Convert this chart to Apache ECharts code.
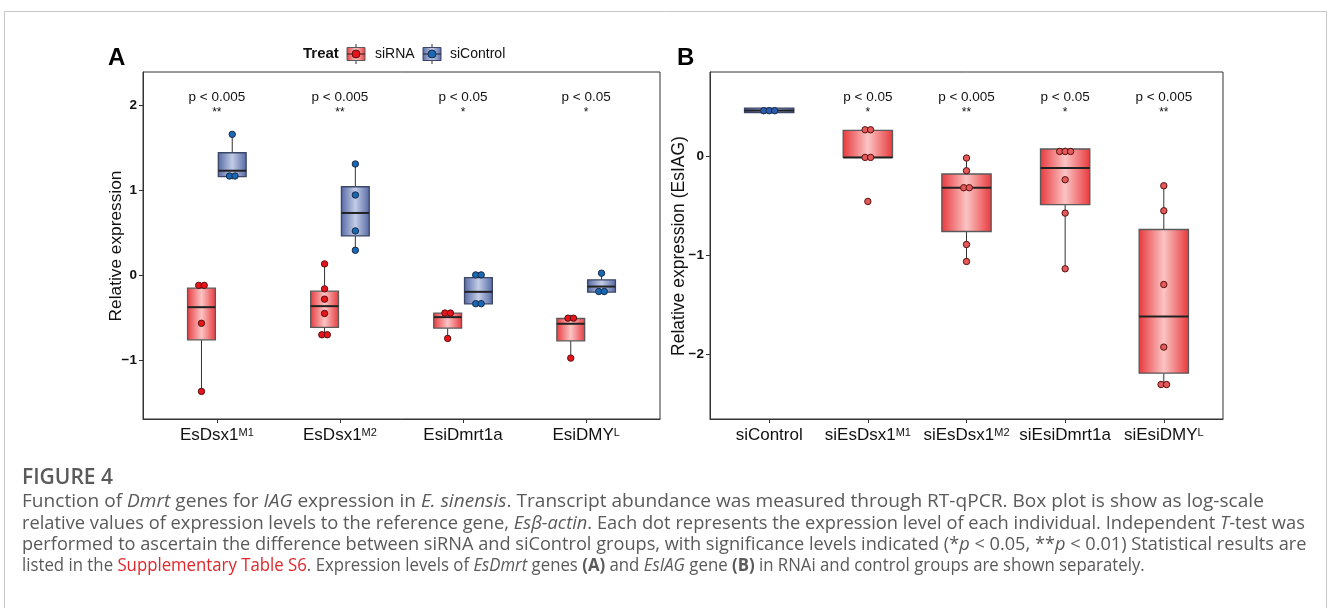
<!DOCTYPE html>
<html><head><meta charset="utf-8">
<script src="https://cdn.jsdelivr.net/npm/echarts@6/dist/echarts.min.js"></script>
<style>html,body{margin:0;padding:0;background:#fff}#c{width:1328px;height:608px}</style>
</head><body><div id="c"></div>
<script>
// ---------- Panel A data ----------
const catsA = ['EsDsx1{sup|M1}', 'EsDsx1{sup|M2}', 'EsiDmrt1a', 'EsiDMY{sup|L}'];
// box stats per category: [lower whisker, Q1, median, Q3, upper whisker]
const siRNA_A_box = [
  [-1.36, -0.754, -0.371, -0.148, -0.09],
  [-0.695, -0.609, -0.359, -0.183, 0.137],
  [-0.738, -0.617, -0.488, -0.441, -0.43],
  [-0.969, -0.766, -0.566, -0.504, -0.46]
];
const siControl_A_box = [
  [1.13, 1.161, 1.231, 1.442, 1.658],
  [0.297, 0.465, 0.735, 1.043, 1.31],
  [-0.35, -0.332, -0.191, -0.023, 0.04],
  [-0.21, -0.195, -0.129, -0.05, 0.028]
];
const siRNA_A_pts = [
  [-0.115, -0.115, -0.56, -1.36],
  [0.137, -0.156, -0.277, -0.445, -0.695, -0.695],
  [-0.44, -0.44, -0.738],
  [-0.50, -0.50, -0.969]
];
const siControl_A_pts = [
  [1.658, 1.169, 1.169],
  [1.31, 0.946, 0.524, 0.297],
  [0.008, 0.008, -0.33, -0.33],
  [0.028, -0.187, -0.187]
];
const pTextA = ['p < 0.005', 'p < 0.005', 'p < 0.05', 'p < 0.05'];
const starsA = ['**', '**', '*', '*'];
const yTicksA = [-1, 0, 1, 2];

// ---------- Panel B data ----------
const catsB = ['siControl', 'siEsDsx1{sup|M1}', 'siEsDsx1{sup|M2}', 'siEsiDmrt1a', 'siEsiDMY{sup|L}'];
const groupB = ['siControl', 'siRNA', 'siRNA', 'siRNA', 'siRNA'];
const boxB = [
  [0.445, 0.445, 0.465, 0.49, 0.49],
  [-0.01, -0.01, -0.01, 0.263, 0.27],
  [-1.064, -0.76, -0.317, -0.178, -0.016],
  [-1.138, -0.489, -0.118, 0.075, 0.09],
  [-2.31, -2.195, -1.621, -0.74, -0.297]
];
const ptsB = [
  [0.463, 0.463, 0.463],
  [0.27, 0.27, -0.01, -0.01, -0.456],
  [-0.016, -0.145, -0.317, -0.317, -0.892, -1.064],
  [0.05, 0.05, 0.05, -0.236, -0.574, -1.138],
  [-0.297, -0.55, -1.297, -1.931, -2.31, -2.31]
];
const pTextB = ['', 'p < 0.05', 'p < 0.005', 'p < 0.05', 'p < 0.005'];
const starsB = ['', '*', '**', '*', '**'];
const yTicksB = [-2, -1, 0];

// ---------- styles ----------
const FONT = 'Liberation Sans, Arial, sans-serif';
const grad = (edge, mid) => new echarts.graphic.LinearGradient(0, 0, 1, 0, [
  {offset: 0, color: edge}, {offset: 0.5, color: mid}, {offset: 1, color: edge}]);
const STY = {
  siRNA: {edge: '#e8383c', mid: '#fbc4c4', border: '#5a5a5a', dotA: '#e8141b', dotB: '#e25a5a', dotStroke: '#5a1010'},
  siControl: {edge: '#5368a3', mid: '#c3cce6', border: '#3c4768', dotA: '#1869b3', dotB: '#2a5cb0', dotStroke: '#1a2a4a'}
};

function boxData(boxes, offset) {
  return boxes.map((b, i) => [i + 1 + offset].concat(b));
}
// group equal values into horizontal stacks (dot-plot style)
function ptData(ptsList, offset, keep) {
  const out = [];
  ptsList.forEach((pts, i) => {
    if (keep && !keep(i)) return;
    const used = new Array(pts.length).fill(false);
    pts.forEach((v, j) => {
      if (used[j]) return;
      const grp = [];
      pts.forEach((w, k) => { if (!used[k] && Math.abs(w - v) < 0.02) { used[k] = true; grp.push(w); } });
      grp.forEach((w, k) => out.push([i + 1 + offset, w, k - (grp.length - 1) / 2]));
    });
  });
  return out;
}

function boxRender(halfW, styleFor) {
  return function (params, api) {
    const x = api.value(0);
    const s = styleFor(params.dataIndex);
    const lo = api.coord([x, api.value(1)]), q1 = api.coord([x, api.value(2)]),
          md = api.coord([x, api.value(3)]), q3 = api.coord([x, api.value(4)]),
          hi = api.coord([x, api.value(5)]);
    const xl = api.coord([x - halfW, 0])[0], xr = api.coord([x + halfW, 0])[0];
    const cx = lo[0];
    return {type: 'group', children: [
      {type: 'line', shape: {x1: cx, y1: hi[1], x2: cx, y2: q3[1]}, style: {stroke: '#333', lineWidth: 1}},
      {type: 'line', shape: {x1: cx, y1: q1[1], x2: cx, y2: lo[1]}, style: {stroke: '#333', lineWidth: 1}},
      {type: 'rect', shape: {x: xl, y: q3[1], width: xr - xl, height: q1[1] - q3[1]},
        style: {fill: grad(s.edge, s.mid), stroke: s.border, lineWidth: 1.3}},
      {type: 'line', shape: {x1: xl, y1: md[1], x2: xr, y2: md[1]}, style: {stroke: '#222', lineWidth: 2}}
    ]};
  };
}
function ptRender(fill, stroke, spacing, r) {
  return function (params, api) {
    const p = api.coord([api.value(0), api.value(1)]);
    return {type: 'circle', shape: {cx: p[0] + api.value(2) * spacing, cy: p[1], r: r},
      style: {fill: fill, stroke: stroke, lineWidth: 1}};
  };
}
function textRender(ptexts, stars) {
  return function (params, api) {
    const i = params.dataIndex;
    const x = api.coord([api.value(0), 0])[0];
    const top = params.coordSys.y;
    return {type: 'group', children: [
      {type: 'text', x: x, y: top + 25, style: {text: ptexts[i], font: '13.5px ' + FONT, fill: '#111', align: 'center', verticalAlign: 'middle'}},
      {type: 'text', x: x, y: top + 41, style: {text: stars[i], font: '12px ' + FONT, fill: '#111', align: 'center', verticalAlign: 'middle'}}
    ]};
  };
}

const richX = {sup: {fontSize: 11, verticalAlign: 'top', lineHeight: 10, color: '#111', fontFamily: FONT}};
function xAxisCfg(grid, n, cats) {
  const vals = cats.map((c, i) => i + 1);
  return {gridIndex: grid, type: 'value', min: 0.4, max: n + 0.6,
    splitLine: {show: false},
    axisLine: {show: true, onZero: false, lineStyle: {color: '#333', width: 1}},
    axisTick: {show: true, customValues: vals, length: 4, lineStyle: {color: '#333'}},
    axisLabel: {customValues: vals, formatter: v => cats[Math.round(v) - 1], fontSize: 17,
      color: '#111', fontFamily: FONT, margin: 8, rich: richX}};
}
function yAxisCfg(grid, min, max, ticks) {
  return {gridIndex: grid, type: 'value', min: min, max: max,
    splitLine: {show: false},
    axisLine: {show: true, onZero: false, lineStyle: {color: '#333', width: 1}},
    axisTick: {show: true, customValues: ticks, length: 4, lineStyle: {color: '#333'}},
    axisLabel: {customValues: ticks, formatter: v => String(v).replace('-', '\u2212'),
      fontSize: 13.5, fontWeight: 'bold', color: '#111', fontFamily: FONT, margin: 6}};
}

const offA = 0.125, halfA = 0.113;
const series = [
  {type: 'custom', xAxisIndex: 0, yAxisIndex: 0, renderItem: boxRender(halfA, () => STY.siRNA), data: boxData(siRNA_A_box, -offA), z: 2},
  {type: 'custom', xAxisIndex: 0, yAxisIndex: 0, renderItem: boxRender(halfA, () => STY.siControl), data: boxData(siControl_A_box, offA), z: 2},
  {type: 'custom', xAxisIndex: 0, yAxisIndex: 0, renderItem: ptRender(STY.siRNA.dotA, STY.siRNA.dotStroke, 5.5, 3.2),
    data: ptData(siRNA_A_pts, -offA), z: 3},
  {type: 'custom', xAxisIndex: 0, yAxisIndex: 0, renderItem: ptRender(STY.siControl.dotA, STY.siControl.dotStroke, 5.5, 3.2),
    data: ptData(siControl_A_pts, offA), z: 3},
  {type: 'custom', xAxisIndex: 0, yAxisIndex: 0, renderItem: textRender(pTextA, starsA), data: catsA.map((c, i) => [i + 1, 0]), z: 4},

  {type: 'custom', xAxisIndex: 1, yAxisIndex: 1, renderItem: boxRender(0.25, i => STY[groupB[i]]), data: boxData(boxB, 0), z: 2},
  {type: 'custom', xAxisIndex: 1, yAxisIndex: 1, renderItem: ptRender(STY.siRNA.dotB, STY.siRNA.dotStroke, 5.5, 3.2),
    data: ptData(ptsB, 0, i => groupB[i] === 'siRNA'), z: 3},
  {type: 'custom', xAxisIndex: 1, yAxisIndex: 1, renderItem: ptRender(STY.siControl.dotB, STY.siControl.dotStroke, 5.5, 3.2),
    data: ptData(ptsB, 0, i => groupB[i] === 'siControl'), z: 3},
  {type: 'custom', xAxisIndex: 1, yAxisIndex: 1, renderItem: textRender(pTextB, starsB), data: catsB.map((c, i) => [i + 1, 0]), z: 4}
];

// caption
const CAPF = 'Open Sans';
const CAPS = 18;
const CAPC = '#5a5a5a';
const capRich = {
  i: {fontStyle: 'italic', fontSize: CAPS, fontFamily: CAPF, fill: CAPC},
  r: {fill: '#e0262b', fontSize: CAPS, fontFamily: CAPF},
  b: {fontWeight: 'bold', fontSize: CAPS, fontFamily: CAPF, fill: CAPC}
};
const capLines = [
  'Function of {i|Dmrt} genes for {i|IAG} expression in {i|E. sinensis}. Transcript abundance was measured through RT-qPCR. Box plot is show as log-scale',
  'relative values of expression levels to the reference gene, {i|Es\u03b2-actin}. Each dot represents the expression level of each individual. Independent {i|T}-test was',
  'performed to ascertain the difference between siRNA and siControl groups, with significance levels indicated (*{i|p} < 0.05, **{i|p} < 0.01) Statistical results are',
  'listed in the {r|Supplementary Table S6}. Expression levels of {i|EsDmrt} genes {b|(A)} and {i|EsIAG} gene {b|(B)} in RNAi and control groups are shown separately.'
];
const capY = [502, 523.5, 545, 566];
const capScale = [1.061, 1.016, 1.010, 0.932];

const graphics = [
  {type: 'rect', shape: {x: 4.5, y: 11.5, width: 1322, height: 610}, style: {fill: 'none', stroke: '#c6c6c6', lineWidth: 1}, silent: true},
  {type: 'text', x: 108, y: 58, style: {text: 'A', font: 'bold 24px ' + FONT, fill: '#000', verticalAlign: 'middle'}},
  {type: 'text', x: 677, y: 58, style: {text: 'B', font: 'bold 24px ' + FONT, fill: '#000', verticalAlign: 'middle'}},
  {type: 'text', x: 116, y: 246, rotation: Math.PI / 2, style: {text: 'Relative expression', font: '17.3px ' + FONT, fill: '#111', align: 'center', verticalAlign: 'middle'}},
  {type: 'text', x: 679, y: 246, rotation: Math.PI / 2, style: {text: 'Relative expression (EsIAG)', font: '17.5px ' + FONT, fill: '#111', align: 'center', verticalAlign: 'middle'}},
  // legend
  {type: 'text', x: 303, y: 54, style: {text: 'Treat', font: 'bold 15px ' + FONT, fill: '#111', verticalAlign: 'middle'}},
  {type: 'line', shape: {x1: 356, y1: 44, x2: 356, y2: 64}, style: {stroke: '#333', lineWidth: 1}},
  {type: 'rect', shape: {x: 347, y: 47.5, width: 18, height: 13}, style: {fill: grad(STY.siRNA.edge, STY.siRNA.mid), stroke: STY.siRNA.border, lineWidth: 1}},
  {type: 'line', shape: {x1: 347, y1: 54, x2: 365, y2: 54}, style: {stroke: '#222', lineWidth: 1}},
  {type: 'circle', shape: {cx: 356, cy: 54, r: 4}, style: {fill: STY.siRNA.dotA, stroke: STY.siRNA.dotStroke, lineWidth: 1}},
  {type: 'text', x: 375, y: 54, style: {text: 'siRNA', font: '14px ' + FONT, fill: '#111', verticalAlign: 'middle'}},
  {type: 'line', shape: {x1: 432, y1: 44, x2: 432, y2: 64}, style: {stroke: '#333', lineWidth: 1}},
  {type: 'rect', shape: {x: 423, y: 47.5, width: 18, height: 13}, style: {fill: grad(STY.siControl.edge, STY.siControl.mid), stroke: STY.siControl.border, lineWidth: 1}},
  {type: 'line', shape: {x1: 423, y1: 54, x2: 441, y2: 54}, style: {stroke: '#222', lineWidth: 1}},
  {type: 'circle', shape: {cx: 432, cy: 54, r: 4}, style: {fill: STY.siControl.dotA, stroke: STY.siControl.dotStroke, lineWidth: 1}},
  {type: 'text', x: 450, y: 54, style: {text: 'siControl', font: '14px ' + FONT, fill: '#111', verticalAlign: 'middle'}},
  // caption
  {type: 'text', x: 22, y: 478, style: {text: 'FIGURE 4', font: '600 21px ' + CAPF, fill: CAPC, verticalAlign: 'middle'}}
].concat(capLines.map((t, k) => ({type: 'text', x: 22, y: capY[k], scaleX: capScale[k],
  style: {text: t, font: CAPS + 'px ' + CAPF, fill: CAPC, verticalAlign: 'middle', rich: capRich}})));

const chart = echarts.init(document.getElementById('c'), null, {renderer: 'canvas'});
chart.setOption({
  animation: false,
  backgroundColor: '#fff',
  grid: [
    {left: 143, top: 72, width: 517, height: 347, show: true, borderColor: '#333', borderWidth: 1, backgroundColor: '#fff'},
    {left: 710, top: 72, width: 513, height: 347, show: true, borderColor: '#333', borderWidth: 1, backgroundColor: '#fff'}
  ],
  xAxis: [xAxisCfg(0, 4, catsA), xAxisCfg(1, 5, catsB)],
  yAxis: [yAxisCfg(0, -1.684, 2.39, yTicksA), yAxisCfg(1, -2.659, 0.855, yTicksB)],
  series: series,
  graphic: graphics
});
</script></body></html>
